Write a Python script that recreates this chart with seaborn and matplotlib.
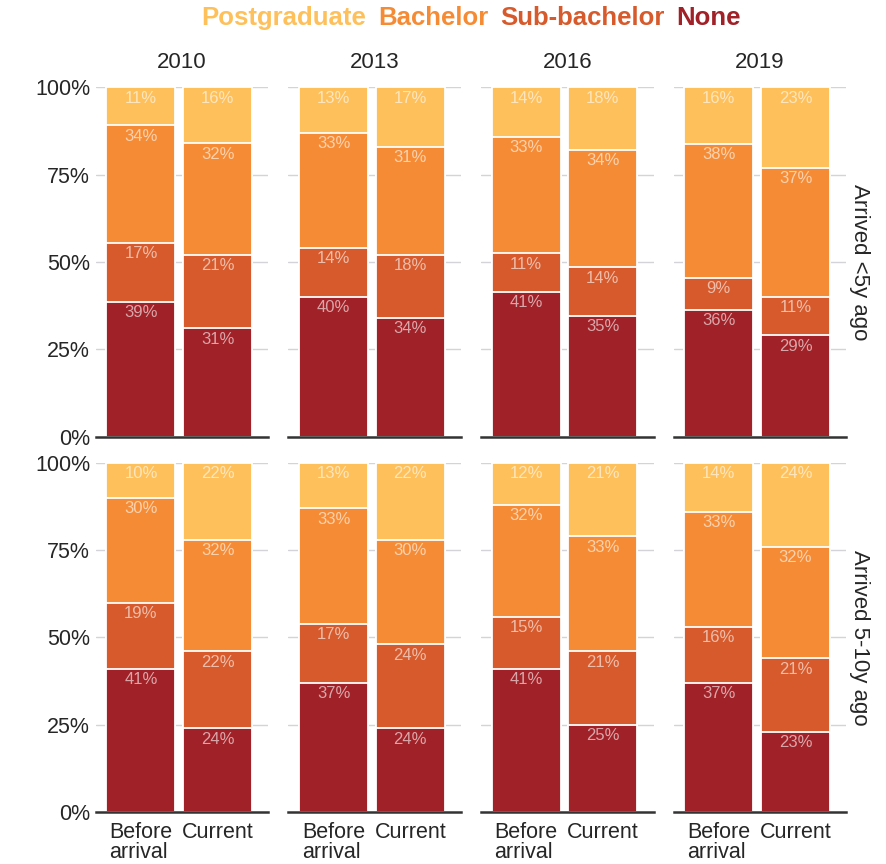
import numpy as np
import pandas as pd
import matplotlib
matplotlib.use("Agg")
import matplotlib.pyplot as plt
import seaborn as sns

years = [2010, 2013, 2016, 2019]
cohorts = ["Arrived <5y ago", "Arrived 5-10y ago"]
timings = ["Before\narrival", "Current"]
levels = ["Postgraduate", "Bachelor", "Sub-bachelor", "None"]
level_colors = ["#FEC05B", "#F58C35", "#D65A2B", "#A02127"]

# Shares (%) per year, as [before arrival, current] pairs: 2010, 2013, 2016, 2019
post_lt5 = [11, 16, 13, 17, 14, 18, 16, 23]
bach_lt5 = [34, 32, 33, 31, 33, 34, 38, 37]
sub_lt5 = [17, 21, 14, 18, 11, 14, 9, 11]
none_lt5 = [39, 31, 40, 34, 41, 35, 36, 29]

post_5_10 = [10, 22, 13, 22, 12, 21, 14, 24]
bach_5_10 = [30, 32, 33, 30, 32, 33, 33, 32]
sub_5_10 = [19, 22, 17, 24, 15, 21, 16, 21]
none_5_10 = [41, 24, 37, 24, 41, 25, 37, 23]

series = {
    cohorts[0]: {"Postgraduate": post_lt5, "Bachelor": bach_lt5,
                 "Sub-bachelor": sub_lt5, "None": none_lt5},
    cohorts[1]: {"Postgraduate": post_5_10, "Bachelor": bach_5_10,
                 "Sub-bachelor": sub_5_10, "None": none_5_10},
}

rows = []
for cohort, by_level in series.items():
    for level, vals in by_level.items():
        for k, v in enumerate(vals):
            rows.append({"cohort": cohort, "year": years[k // 2],
                         "timing": timings[k % 2], "level": level, "pct": v})
df = pd.DataFrame(rows)

sns.set_style("white")
plt.rcParams["font.family"] = ["Liberation Sans", "DejaVu Sans"]

color_of = dict(zip(levels, level_colors))
label_color = (1, 1, 1, 0.6)
grid_color = "#d3d3d8"

fig, axes = plt.subplots(2, 4, figsize=(8.86, 8.64), dpi=100, sharey=True)
fig.subplots_adjust(left=0.108, right=0.955, top=0.899, bottom=0.06,
                    wspace=0.116, hspace=0.075)

stack_order = levels[::-1]  # bottom to top
for r, cohort in enumerate(cohorts):
    for c, year in enumerate(years):
        ax = axes[r, c]
        sub = df[(df.cohort == cohort) & (df.year == year)]
        wide = sub.pivot(index="timing", columns="level", values="pct").loc[timings]
        # rounded shares may add to 99 or 101: rescale each bar to 100%
        share = wide.div(wide.sum(axis=1), axis=0) * 100
        cum = share[stack_order].cumsum(axis=1)
        for lvl in levels:  # tallest cumulative layer first
            layer = pd.DataFrame({"timing": timings, "top": cum[lvl].values})
            sns.barplot(data=layer, x="timing", y="top", order=timings,
                        color=color_of[lvl], saturation=1, width=0.9,
                        edgecolor="white", linewidth=1.3, ax=ax, zorder=2)
            for i, t in enumerate(timings):
                ax.annotate(f"{wide.loc[t, lvl]}%", (i, cum.loc[t, lvl]),
                            xytext=(0, -2.5), textcoords="offset points",
                            ha="center", va="top", color=label_color,
                            fontsize=12, zorder=5)

        ax.set_ylim(0, 100)
        ax.set_xlim(-0.59, 1.66)
        ax.set_yticks([0, 25, 50, 75, 100])
        ax.set_yticklabels(["0%", "25%", "50%", "75%", "100%"])
        for g in [25, 50, 75, 100]:
            ax.axhline(g, color=grid_color, lw=1, zorder=0.5)
        ax.set_xlabel("")
        ax.set_ylabel("")
        for s in ["left", "right", "top"]:
            ax.spines[s].set_visible(False)
        ax.spines["bottom"].set_color("#333333")
        ax.spines["bottom"].set_linewidth(1.8)
        ax.spines["bottom"].set_zorder(3)
        ax.tick_params(axis="y", length=0, labelsize=15.5, pad=4)
        if r == 0:
            ax.set_title(str(year), fontsize=16, pad=14)
            ax.tick_params(axis="x", length=0, labelbottom=False)
        else:
            ax.tick_params(axis="x", length=5, width=1, color="#333333",
                           labelsize=15.5, pad=2)
            for lab in ax.get_xticklabels():
                lab.set_multialignment("left")
                lab.set_verticalalignment("top")
                lab.set_linespacing(0.95)
    axes[r, -1].text(1.015, 0.5, cohort, transform=axes[r, -1].transAxes,
                     rotation=270, ha="left", va="center", fontsize=16)

# Legend as a row of coloured words
fig.canvas.draw()
renderer = fig.canvas.get_renderer()
words = []
for lvl in levels:
    t = fig.text(0, 0.979, lvl, color=color_of[lvl], fontsize=18.5,
                 fontweight="bold", ha="left", va="center")
    words.append(t)
gap = 12 / fig.bbox.width
widths = [w.get_window_extent(renderer).width / fig.bbox.width for w in words]
total = sum(widths) + gap * (len(words) - 1)
center = (fig.subplotpars.left + fig.subplotpars.right) / 2
x = center - total / 2
for w, wd in zip(words, widths):
    w.set_x(x)
    x += wd + gap

fig.savefig("out.png", dpi=100)
